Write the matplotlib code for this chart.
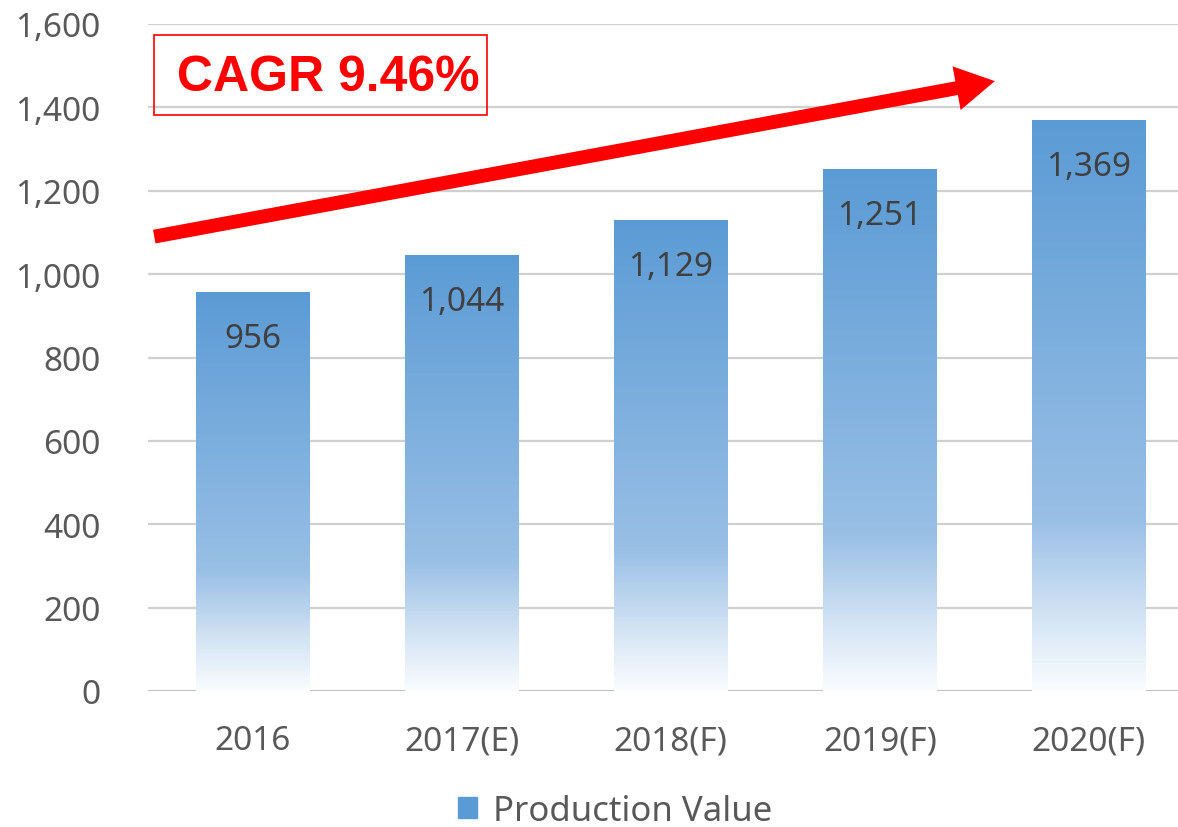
import numpy as np
import matplotlib.pyplot as plt
from matplotlib.colors import LinearSegmentedColormap
from matplotlib.patches import Rectangle, FancyArrowPatch, ArrowStyle, Patch

years = ["2016", "2017(E)", "2018(F)", "2019(F)", "2020(F)"]
values = [956, 1044, 1129, 1251, 1369]
value_labels = ["956", "1,044", "1,129", "1,251", "1,369"]
yticks = [0, 200, 400, 600, 800, 1000, 1200, 1400, 1600]
ytick_labels = ["0", "200", "400", "600", "800", "1,000", "1,200", "1,400", "1,600"]
cagr_text = "CAGR 9.46%"
legend_label = "Production Value"

plt.rcParams['font.family'] = ['Noto Sans', 'DejaVu Sans']

fig = plt.figure(figsize=(11.78, 8.28), dpi=100)
ax = fig.add_axes([148 / 1178, 136 / 828, 1 - 148 / 1178, (692 - 25) / 828])

# gradient fill: white at bottom, blue on top
cmap = LinearSegmentedColormap.from_list("barfade", [
    (0.0, (0.98, 0.99, 1.0)),
    (0.12, (0.84, 0.90, 0.96)),
    (0.30, (0.60, 0.75, 0.90)),
    (1.0, (0.357, 0.608, 0.835)),
])
grad = np.linspace(0, 1, 256).reshape(-1, 1)
w = 0.545
x = np.arange(len(years))
for xi, v, lab in zip(x, values, value_labels):
    ax.imshow(grad, extent=[xi - w / 2, xi + w / 2, 0, v], origin='lower',
              aspect='auto', cmap=cmap, zorder=2, interpolation='bilinear')
    ax.annotate(lab, (xi, v), xytext=(0, -33), textcoords='offset points',
                ha='center', va='center', fontsize=24, color='#404040', zorder=4)

ax.set_xlim(-0.5, 4.426)
ax.set_ylim(0, 1600)
ax.set_yticks(yticks)
ax.set_yticklabels(ytick_labels)
ax.set_xticks(x)
ax.set_xticklabels(years)
ax.tick_params(axis='y', length=0, pad=34, labelsize=24, labelcolor='#595959')
ax.tick_params(axis='x', length=0, pad=24, labelsize=24, labelcolor='#595959')
for s in ax.spines.values():
    s.set_visible(False)
ax.grid(axis='y', color='#D0D0D0', lw=1.6, zorder=0)
ax.axhline(0, color='#BFBFBF', lw=2, zorder=1)
ax.set_axisbelow(True)

# CAGR box and arrow
ax.add_patch(Rectangle((-0.469, 1381), 1.589, 192.5, fill=False, ec='red',
                       lw=1.2, zorder=5, clip_on=False))
ax.text(-0.36, 1441, cagr_text, color='red', fontsize=36, fontweight='bold',
        family='Liberation Sans', va='baseline', ha='left', zorder=6)
arrow = FancyArrowPatch((-0.47, 1090), (3.55, 1463),
                        arrowstyle=ArrowStyle.Simple(head_length=28, head_width=32, tail_width=10),
                        mutation_scale=1, color='red', lw=0, zorder=6,
                        shrinkA=0, shrinkB=0, clip_on=False)
ax.add_patch(arrow)

fig.legend(handles=[Patch(color='#5B9BD5')], labels=[legend_label],
           loc='center', bbox_to_anchor=(0.522, 1 - 812 / 828), frameon=False,
           fontsize=25, labelcolor='#595959', handlelength=0.55, handleheight=0.55,
           handletextpad=0.45)

fig.savefig("out.png", dpi=100)
